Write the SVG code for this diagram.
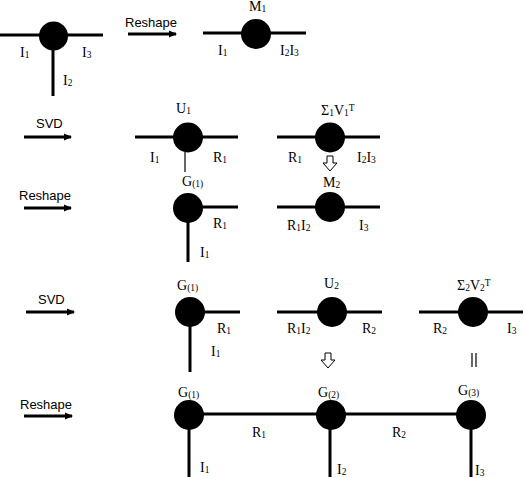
<svg xmlns="http://www.w3.org/2000/svg" width="524" height="478" viewBox="0 0 524 478">
<defs>
<style>
.e{stroke:#000;stroke-width:3;fill:none}
.t{stroke:#000;stroke-width:1.2;fill:none}
.n{fill:#000}
.l{font-family:"Liberation Serif","Times New Roman",serif;font-size:14px;fill:#000}
.s{font-size:9.5px}
.a{font-family:"Liberation Sans",Arial,sans-serif;font-size:13px;fill:#000}
.h{fill:#fff;stroke:#000;stroke-width:1}
</style>
<marker id="ah" markerWidth="8" markerHeight="8" refX="7" refY="4" orient="auto" markerUnits="userSpaceOnUse">
<path d="M0,0.5 L8,4 L0,7.5 z" fill="#000"/>
</marker>
</defs>
<rect width="524" height="478" fill="#fff"/>

<g id="connectors">
<line class="e" x1="0" y1="35" x2="103" y2="35"/>
<line class="e" x1="53" y1="35" x2="53" y2="96"/>
<line class="e" x1="203" y1="33" x2="306" y2="33"/>
<line class="e" x1="135" y1="137" x2="238" y2="137"/>
<line class="t" x1="185" y1="152" x2="185" y2="172"/>
<line class="e" x1="277" y1="137" x2="380" y2="137"/>
<line class="e" x1="188" y1="207" x2="238" y2="207"/>
<line class="e" x1="188" y1="207" x2="188" y2="262"/>
<line class="e" x1="277" y1="207" x2="380" y2="207"/>
<line class="e" x1="190" y1="312" x2="240" y2="312"/>
<line class="e" x1="190" y1="312" x2="190" y2="372"/>
<line class="e" x1="277" y1="312" x2="382" y2="312"/>
<line class="e" x1="419" y1="312" x2="523" y2="312"/>
<line class="e" x1="189" y1="414" x2="471" y2="414"/>
<line class="e" x1="189" y1="414" x2="189" y2="477"/>
<line class="e" x1="330" y1="414" x2="330" y2="477"/>
<line class="e" x1="471" y1="414" x2="471" y2="477"/>
<line class="e" x1="128" y1="34" x2="176" y2="34" marker-end="url(#ah)"/>
<line class="e" x1="24" y1="137" x2="71" y2="137" marker-end="url(#ah)"/>
<line class="e" x1="24" y1="208" x2="71" y2="208" marker-end="url(#ah)"/>
<line class="e" x1="26" y1="312" x2="74" y2="312" marker-end="url(#ah)"/>
<line class="e" x1="24" y1="416" x2="72" y2="416" marker-end="url(#ah)"/>
<path class="h" d="M327,156 H333 V163 H337 L330,171 L323,163 H327 Z"/>
<path class="h" d="M325,353 H331 V360 H335 L328,368 L321,360 H325 Z"/>
<line class="t" x1="472" y1="353" x2="472" y2="367"/>
<line class="t" x1="476" y1="353" x2="476" y2="367"/>
</g>

<g id="n-top"><circle class="n" cx="53.5" cy="36" r="14.5"/></g>
<g id="n-m1"><circle class="n" cx="256" cy="34" r="15"/></g>
<g id="n-u1"><circle class="n" cx="188" cy="137.5" r="15"/></g>
<g id="n-s1v1"><circle class="n" cx="330" cy="137.5" r="15"/></g>
<g id="n-g1a"><circle class="n" cx="188" cy="208" r="15"/></g>
<g id="n-m2"><circle class="n" cx="330" cy="207" r="15"/></g>
<g id="n-g1b"><circle class="n" cx="190" cy="312" r="15"/></g>
<g id="n-u2"><circle class="n" cx="332" cy="312" r="15"/></g>
<g id="n-s2v2"><circle class="n" cx="473" cy="312" r="15"/></g>
<g id="n-g1c"><circle class="n" cx="189" cy="415" r="15"/></g>
<g id="n-g2"><circle class="n" cx="331" cy="415" r="15"/></g>
<g id="n-g3"><circle class="n" cx="471" cy="415" r="15"/></g>

<g id="labels">
<text class="a" x="125" y="27">Reshape</text>
<text class="a" x="36" y="128">SVD</text>
<text class="a" x="19" y="200">Reshape</text>
<text class="a" x="38" y="304">SVD</text>
<text class="a" x="20" y="409">Reshape</text>

<text class="l" x="20" y="57">I<tspan class="s" dy="1">1</tspan></text>
<text class="l" x="82" y="57">I<tspan class="s" dy="1">3</tspan></text>
<text class="l" x="63" y="85">I<tspan class="s" dy="1">2</tspan></text>

<text class="l" x="249" y="11">M<tspan class="s" dy="1">1</tspan></text>
<text class="l" x="218" y="55">I<tspan class="s" dy="1">1</tspan></text>
<text class="l" x="280" y="55">I<tspan class="s" dy="1">2</tspan><tspan dy="-1">I</tspan><tspan class="s" dy="1">3</tspan></text>

<text class="l" x="176" y="113">U<tspan class="s" dy="1">1</tspan></text>
<text class="l" x="150" y="162">I<tspan class="s" dy="1">1</tspan></text>
<text class="l" x="213" y="162">R<tspan class="s" dy="1">1</tspan></text>

<text class="l" x="321" y="115">Σ<tspan class="s" dy="1">1</tspan><tspan dy="-1">V</tspan><tspan class="s" dy="1">1</tspan><tspan class="s" dy="-5">T</tspan></text>
<text class="l" x="288" y="162">R<tspan class="s" dy="1">1</tspan></text>
<text class="l" x="357" y="162">I<tspan class="s" dy="1">2</tspan><tspan dy="-1">I</tspan><tspan class="s" dy="1">3</tspan></text>

<text class="l" x="182" y="186">G<tspan class="s" dy="1">(1)</tspan></text>
<text class="l" x="213" y="228">R<tspan class="s" dy="1">1</tspan></text>
<text class="l" x="200" y="257">I<tspan class="s" dy="1">1</tspan></text>

<text class="l" x="323" y="187">M<tspan class="s" dy="1">2</tspan></text>
<text class="l" x="287" y="230">R<tspan class="s" dy="1">1</tspan><tspan dy="-1">I</tspan><tspan class="s" dy="1">2</tspan></text>
<text class="l" x="359" y="230">I<tspan class="s" dy="1">3</tspan></text>

<text class="l" x="177" y="290">G<tspan class="s" dy="1">(1)</tspan></text>
<text class="l" x="217" y="333">R<tspan class="s" dy="1">1</tspan></text>
<text class="l" x="211" y="356">I<tspan class="s" dy="1">1</tspan></text>

<text class="l" x="324" y="288">U<tspan class="s" dy="1">2</tspan></text>
<text class="l" x="287" y="333">R<tspan class="s" dy="1">1</tspan><tspan dy="-1">I</tspan><tspan class="s" dy="1">2</tspan></text>
<text class="l" x="362" y="333">R<tspan class="s" dy="1">2</tspan></text>

<text class="l" x="457" y="290">Σ<tspan class="s" dy="1">2</tspan><tspan dy="-1">V</tspan><tspan class="s" dy="1">2</tspan><tspan class="s" dy="-5">T</tspan></text>
<text class="l" x="433" y="333">R<tspan class="s" dy="1">2</tspan></text>
<text class="l" x="507" y="333">I<tspan class="s" dy="1">3</tspan></text>

<text class="l" x="178" y="397">G<tspan class="s" dy="1">(1)</tspan></text>
<text class="l" x="318" y="397">G<tspan class="s" dy="1">(2)</tspan></text>
<text class="l" x="458" y="395">G<tspan class="s" dy="1">(3)</tspan></text>
<text class="l" x="252" y="437">R<tspan class="s" dy="1">1</tspan></text>
<text class="l" x="392" y="437">R<tspan class="s" dy="1">2</tspan></text>
<text class="l" x="200" y="472">I<tspan class="s" dy="1">1</tspan></text>
<text class="l" x="337" y="474">I<tspan class="s" dy="1">2</tspan></text>
<text class="l" x="475" y="475">I<tspan class="s" dy="1">3</tspan></text>
</g>
</svg>
